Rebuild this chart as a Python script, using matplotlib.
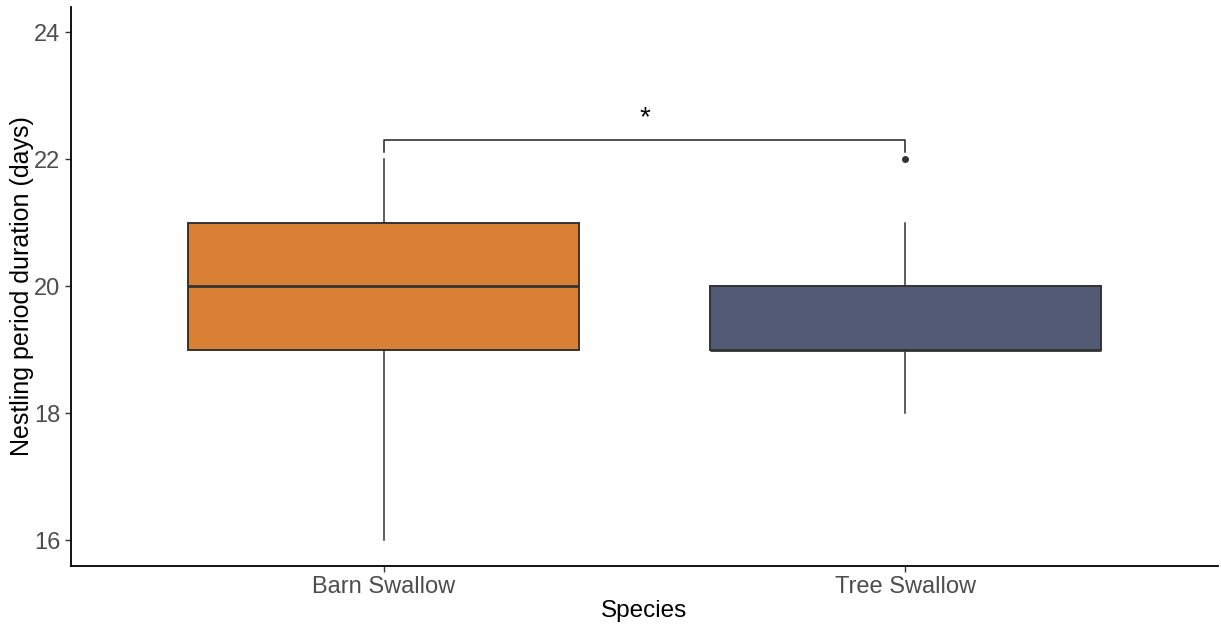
import matplotlib.pyplot as plt

plt.rcParams["font.family"] = ["Liberation Sans", "DejaVu Sans"]

species = ["Barn Swallow", "Tree Swallow"]
whisker_low = [16, 18]
q1 = [19, 19]
median = [20, 19]
q3 = [21, 20]
whisker_high = [22, 21]
outliers = [[], [22]]
colors = ["#DA8035", "#535A75"]

stats = []
for i, name in enumerate(species):
    stats.append({
        "label": name,
        "whislo": whisker_low[i],
        "q1": q1[i],
        "med": median[i],
        "q3": q3[i],
        "whishi": whisker_high[i],
        "fliers": outliers[i],
    })

fig = plt.figure(figsize=(12.21, 6.26), dpi=100)
ax = fig.add_axes([0.0581, 0.0963, 0.9394, 0.8925])

bp = ax.bxp(
    stats,
    positions=[1, 2],
    widths=0.75,
    patch_artist=True,
    showcaps=False,
    boxprops=dict(edgecolor="#333333", linewidth=1.4),
    medianprops=dict(color="#333333", linewidth=2),
    whiskerprops=dict(color="#333333", linewidth=1.1),
    flierprops=dict(marker="o", markersize=4, markerfacecolor="#333333",
                    markeredgecolor="#333333"),
)
for patch, c in zip(bp["boxes"], colors):
    patch.set_facecolor(c)

# significance bracket
ax.plot([1, 1, 2, 2], [22.12, 22.3, 22.3, 22.12], color="#222222", linewidth=1.1)
ax.text(1.5, 22.45, "*", ha="center", va="bottom", fontsize=20)

ax.set_xlim(0.4, 2.6)
ax.set_ylim(15.6, 24.4)
ax.set_yticks([16, 18, 20, 22, 24])
ax.set_xticks([1, 2])
ax.set_xticklabels(species)

ax.spines["top"].set_visible(False)
ax.spines["right"].set_visible(False)
ax.spines["left"].set_linewidth(1.3)
ax.spines["bottom"].set_linewidth(1.3)
ax.tick_params(axis="both", labelsize=17, labelcolor="#4D4D4D",
               color="#333333", length=4, width=1)

ax.set_xlabel("Species", fontsize=17.5, labelpad=1)
ax.set_ylabel("Nestling period duration (days)", fontsize=18, labelpad=0)

plt.savefig("out.png", dpi=100)
